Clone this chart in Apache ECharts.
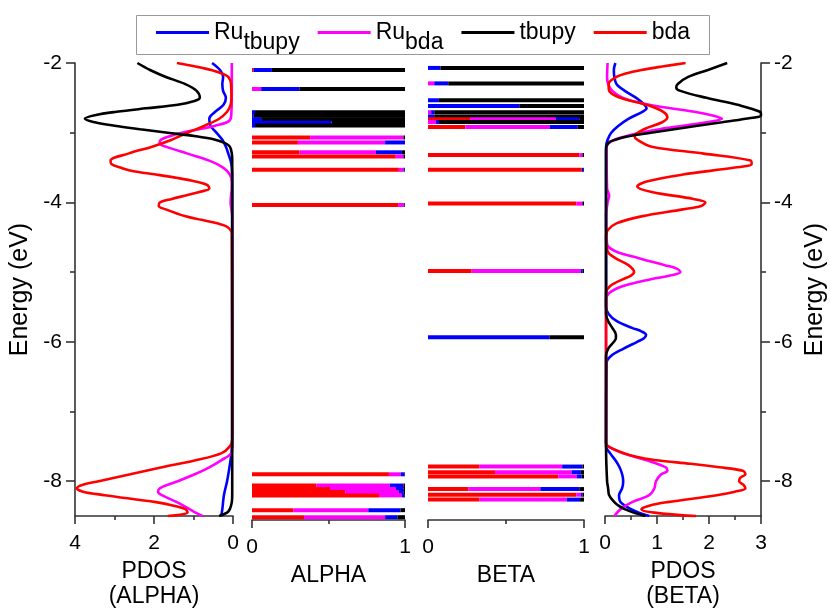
<!DOCTYPE html>
<html><head><meta charset="utf-8">
<script src="https://cdn.jsdelivr.net/npm/echarts@6/dist/echarts.min.js"></script>
<style>html,body{margin:0;padding:0;background:#fff}#c{width:830px;height:614px}</style>
</head><body><div id="c"></div>
<script>
// ---------- data ----------
const legendNames = ['Ru_tbupy', 'Ru_bda', 'tbupy', 'bda'];
const yTickValues = [-8, -6, -4, -2];
const yMinorTickValues = [-7, -5, -3];

// PDOS (ALPHA)
const aBlueE = [-2.0,-2.1,-2.2,-2.3,-2.4,-2.5,-2.6,-2.7,-2.8,-2.9,-3.0,-3.1,-3.2,-3.3,-3.4,-3.5,-3.7,-7.4,-7.6,-7.8,-8.0,-8.2,-8.4,-8.5];
const aBlueV = [0.53,0.33,0.25,0.27,0.25,0.18,0.24,0.45,0.60,0.57,0.42,0.27,0.18,0.12,0.06,0.03,0.02,0.02,0.04,0.09,0.15,0.23,0.27,0.30];
const aMagE = [-2.0,-2.5,-2.7,-2.8,-2.85,-2.9,-2.95,-3.0,-3.05,-3.1,-3.15,-3.2,-3.3,-3.4,-3.5,-3.6,-3.7,-3.8,-3.9,-4.0,-4.1,-4.2,-7.5,-7.6,-7.7,-7.8,-7.9,-8.0,-8.05,-8.1,-8.15,-8.2,-8.3,-8.4,-8.45,-8.5];
const aMagV = [0.03,0.03,0.04,0.06,0.15,0.45,0.85,1.3,1.6,1.82,1.86,1.7,1.15,0.6,0.25,0.08,0.03,0.03,0.05,0.06,0.04,0.02,0.02,0.05,0.3,0.6,0.97,1.4,1.65,1.85,1.9,1.8,1.42,1.1,0.95,0.76];
const aBlackE = [-2.0,-2.1,-2.2,-2.3,-2.4,-2.5,-2.55,-2.6,-2.65,-2.7,-2.75,-2.8,-2.85,-2.9,-2.95,-3.0,-3.05,-3.1,-3.15,-3.2,-3.3,-3.4,-8.2,-8.3,-8.4,-8.45,-8.5];
const aBlackV = [2.42,2.1,1.7,1.22,0.92,0.84,1.0,1.4,2.2,2.95,3.5,3.75,3.5,3.0,2.35,1.65,0.95,0.45,0.2,0.08,0.03,0.02,0.02,0.03,0.08,0.15,0.35];
const aRedE = [-2.0,-2.05,-2.1,-2.15,-2.2,-2.3,-2.5,-2.6,-2.7,-2.8,-2.9,-3.0,-3.1,-3.2,-3.3,-3.4,-3.45,-3.5,-3.55,-3.6,-3.65,-3.7,-3.75,-3.8,-3.85,-3.9,-3.95,-4.0,-4.05,-4.1,-4.2,-4.25,-4.3,-4.35,-4.45,-7.4,-7.5,-7.6,-7.7,-7.8,-7.9,-8.0,-8.05,-8.1,-8.15,-8.2,-8.3,-8.35,-8.4,-8.45,-8.5];
const aRedV = [1.42,0.95,0.55,0.28,0.12,0.05,0.04,0.06,0.15,0.35,0.72,1.15,1.55,2.05,2.65,3.1,3.08,2.85,2.55,1.95,1.4,0.95,0.65,0.6,0.85,1.2,1.55,1.85,1.88,1.7,1.2,0.8,0.4,0.15,0.03,0.02,0.08,0.3,0.95,1.8,2.6,3.4,3.8,3.95,3.8,3.25,1.95,1.5,1.2,1.15,1.65];

// PDOS (BETA)
const bBlueE = [-2.0,-2.1,-2.2,-2.3,-2.4,-2.5,-2.6,-2.65,-2.7,-2.8,-2.9,-3.0,-3.1,-3.2,-5.5,-5.6,-5.7,-5.8,-5.85,-5.9,-5.95,-6.0,-6.1,-6.2,-6.3,-7.5,-7.6,-7.7,-7.8,-7.9,-8.0,-8.1,-8.2,-8.3,-8.4,-8.45,-8.5];
const bBlueV = [0.2,0.17,0.18,0.22,0.38,0.6,0.76,0.8,0.72,0.45,0.26,0.12,0.05,0.02,0.02,0.07,0.22,0.52,0.7,0.79,0.75,0.62,0.35,0.12,0.03,0.02,0.1,0.2,0.28,0.33,0.35,0.33,0.27,0.3,0.5,0.65,0.85];
const bMagE = [-2.0,-2.2,-2.3,-2.4,-2.5,-2.6,-2.7,-2.75,-2.8,-2.85,-2.9,-2.95,-3.0,-3.05,-3.1,-3.15,-3.2,-3.8,-3.9,-4.0,-4.2,-4.6,-4.7,-4.8,-4.9,-4.95,-5.0,-5.05,-5.1,-5.2,-5.3,-5.4,-7.45,-7.5,-7.6,-7.7,-7.8,-7.85,-7.9,-8.0,-8.1,-8.2,-8.3,-8.4,-8.5];
const bMagV = [0.05,0.04,0.06,0.14,0.35,0.85,1.72,2.05,2.25,1.95,1.5,1.05,0.68,0.4,0.18,0.07,0.03,0.04,0.08,0.05,0.02,0.04,0.2,0.65,1.15,1.38,1.45,1.25,0.9,0.35,0.08,0.02,0.02,0.06,0.35,0.8,1.17,1.2,1.08,0.98,0.95,0.85,0.52,0.3,0.18];
const bBlackE = [-2.0,-2.1,-2.2,-2.3,-2.35,-2.4,-2.5,-2.6,-2.7,-2.75,-2.8,-2.85,-2.9,-3.0,-3.05,-3.1,-3.15,-3.25,-5.6,-5.7,-5.8,-5.9,-5.95,-6.0,-6.1,-6.2,-7.5,-8.0,-8.1,-8.2,-8.3,-8.35,-8.4,-8.45,-8.5];
const bBlackV = [2.35,1.98,1.6,1.4,1.37,1.45,1.95,2.55,2.98,3.0,2.7,2.25,1.78,0.88,0.45,0.2,0.06,0.02,0.02,0.06,0.14,0.21,0.21,0.17,0.06,0.02,0.02,0.04,0.06,0.08,0.18,0.26,0.38,0.55,0.78];
const bRedE = [-2.0,-2.05,-2.1,-2.15,-2.2,-2.3,-2.4,-2.5,-2.6,-2.7,-2.78,-2.85,-2.95,-3.05,-3.1,-3.2,-3.3,-3.4,-3.45,-3.5,-3.6,-3.7,-3.77,-3.85,-3.95,-4.0,-4.05,-4.1,-4.2,-4.3,-4.4,-4.5,-4.7,-4.8,-4.9,-5.0,-5.05,-5.1,-5.2,-5.3,-7.45,-7.55,-7.65,-7.7,-7.75,-7.8,-7.85,-7.9,-7.95,-8.0,-8.05,-8.1,-8.15,-8.2,-8.3,-8.35,-8.4,-8.45,-8.5];
const bRedV = [1.55,1.1,0.7,0.4,0.22,0.07,0.08,0.3,0.8,1.12,1.2,1.1,0.75,0.57,0.62,0.9,1.9,2.8,2.82,2.5,1.5,0.8,0.62,0.9,1.7,1.93,1.85,1.5,0.7,0.22,0.05,0.02,0.05,0.2,0.45,0.56,0.5,0.35,0.1,0.02,0.02,0.2,0.6,1.0,1.65,2.2,2.65,2.7,2.6,2.58,2.66,2.7,2.5,2.15,1.2,0.85,0.7,0.95,1.75];

// ALPHA levels: energy and fraction of bda (red), Ru_bda (magenta), Ru_tbupy (blue), tbupy (black)
const alphaE     = [-2.10,-2.37,-2.70,-2.75,-2.80,-2.85,-2.89,-3.06,-3.13,-3.27,-3.33,-3.52,-4.02,-7.85,-8.01,-8.06,-8.10,-8.15,-8.36,-8.46];
const alphaRed   = [0.01, 0.00, 0.00, 0.00, 0.00, 0.00, 0.00, 0.38, 0.30, 0.31, 0.94, 0.96, 0.955,0.895,0.42, 0.51, 0.61, 0.83, 0.27, 0.34];
const alphaMag   = [0.00, 0.06, 0.00, 0.00, 0.00, 0.00, 0.00, 0.61, 0.57, 0.50, 0.05, 0.03, 0.037,0.078,0.48, 0.43, 0.35, 0.15, 0.49, 0.53];
const alphaBlue  = [0.12, 0.25, 0.02, 0.01, 0.06, 0.52, 0.02, 0.00, 0.13, 0.17, 0.00, 0.005,0.004,0.025,0.09, 0.05, 0.03, 0.015,0.21, 0.08];
const alphaBlack = [0.87, 0.69, 0.98, 0.99, 0.94, 0.48, 0.98, 0.01, 0.00, 0.02, 0.01, 0.005,0.004,0.002,0.01, 0.01, 0.01, 0.005,0.03, 0.05];

// BETA levels
const betaE     = [-2.07,-2.29,-2.53,-2.61,-2.70,-2.76,-2.80,-2.84,-2.91,-3.31,-3.52,-4.00,-4.96,-5.90,-7.74,-7.82,-7.88,-8.06,-8.14,-8.21];
const betaRed   = [0.00, 0.00, 0.00, 0.00, 0.00, 0.00, 0.27, 0.00, 0.24, 0.97, 0.985,0.95, 0.28, 0.00, 0.33, 0.43, 0.835,0.26, 0.95, 0.33];
const betaMag   = [0.00, 0.04, 0.00, 0.00, 0.02, 0.00, 0.55, 0.05, 0.54, 0.02, 0.00, 0.04, 0.70, 0.00, 0.53, 0.49, 0.12, 0.46, 0.03, 0.56];
const betaBlue  = [0.08, 0.09, 0.07, 0.585,0.02, 0.04, 0.15, 0.02, 0.18, 0.00, 0.01, 0.00, 0.01, 0.78, 0.13, 0.06, 0.03, 0.25, 0.01, 0.085];
const betaBlack = [0.92, 0.87, 0.93, 0.415,0.96, 0.96, 0.03, 0.93, 0.04, 0.01, 0.005,0.01, 0.01, 0.22, 0.01, 0.02, 0.015,0.03, 0.01, 0.025];

// ---------- styling ----------
const BLUE = '#0000ff', MAG = '#ff00ff', BLACK = '#000000', RED = '#ff0000';
const FONT = '"Liberation Sans", Arial, sans-serif';
const AXC = '#333333';
const lineW = 2.6;

const chart = echarts.init(document.getElementById('c'), null, {renderer: 'canvas'});

const grids = [
  {left: 75,  top: 63, width: 158, height: 457},
  {left: 252, top: 63, width: 153, height: 457},
  {left: 428, top: 63, width: 156, height: 457},
  {left: 605, top: 63, width: 156, height: 457}
];

function xAx(gi, max, interval, name, inverse) {
  return {
    type: 'value', gridIndex: gi, min: 0, max: max, interval: interval, inverse: !!inverse,
    position: 'bottom',
    name: name, nameLocation: 'middle', nameGap: 38,
    nameTextStyle: {fontFamily: FONT, fontSize: 23, color: '#000', lineHeight: 25},
    axisLine: {show: true, onZero: false, lineStyle: {color: AXC, width: 1.6}},
    axisTick: {show: true, inside: false, length: 8, lineStyle: {color: AXC, width: 1.6}},
    minorTick: {show: true, splitNumber: 2, length: 4, lineStyle: {color: AXC, width: 1.6}},
    axisLabel: {fontFamily: FONT, fontSize: 21, color: '#000', margin: 17},
    splitLine: {show: false}
  };
}
function yAxMain(gi, pos) {
  return {
    type: 'value', gridIndex: gi, min: -8.5, max: -2, position: pos,
    name: 'Energy (eV)', nameLocation: 'middle', nameGap: 42,
    nameTextStyle: {fontFamily: FONT, fontSize: 25, color: '#000'},
    axisLine: {show: true, onZero: false, lineStyle: {color: AXC, width: 1.6}},
    axisTick: {show: true, length: 9, customValues: yTickValues, lineStyle: {color: AXC, width: 1.6}},
    axisLabel: {fontFamily: FONT, fontSize: 21, color: '#000', margin: 13, customValues: yTickValues},
    splitLine: {show: false}
  };
}
function yAxMinor(gi, pos) {
  return {
    type: 'value', gridIndex: gi, min: -8.5, max: -2, position: pos,
    axisLine: {show: false, onZero: false},
    axisTick: {show: true, length: 5, customValues: yMinorTickValues, lineStyle: {color: AXC, width: 1.6}},
    axisLabel: {show: false},
    splitLine: {show: false}
  };
}
function yAxHidden(gi) {
  return {type: 'value', gridIndex: gi, min: -8.5, max: -2, show: false,
          axisLine: {onZero: false}, splitLine: {show: false}};
}

function pdos(name, color, xi, yi, E, V) {
  return {
    type: 'line', name: name, xAxisIndex: xi, yAxisIndex: yi,
    data: E.map((e, i) => [V[i], e]),
    showSymbol: false, symbol: 'none', smooth: 0.35, clip: true, silent: true,
    color: color,
    lineStyle: {color: color, width: lineW}
  };
}

function levels(xi, yi, E, R, M, B, K) {
  const cols = [RED, MAG, BLUE, BLACK];
  return {
    type: 'custom', xAxisIndex: xi, yAxisIndex: yi, silent: true, clip: true,
    data: E.map((e, i) => [e, R[i], M[i], B[i], K[i]]),
    encode: {y: 0, x: 1},
    renderItem: function (params, api) {
      const e = api.value(0);
      const parts = [api.value(1), api.value(2), api.value(3), api.value(4)];
      let cum = 0;
      const children = [];
      parts.forEach(function (f, j) {
        if (!(f > 0)) return;
        const p0 = api.coord([cum, e]);
        const p1 = api.coord([cum + f, e]);
        cum += f;
        children.push({type: 'rect', shape: {x: p0[0], y: p0[1] - 2, width: p1[0] - p0[0], height: 4},
                       style: {fill: cols[j]}});
      });
      return {type: 'group', children: children};
    }
  };
}

const option = {
  animation: false,
  backgroundColor: '#ffffff',
  textStyle: {fontFamily: FONT},
  grid: grids,
  xAxis: [
    xAx(0, 4, 2, 'PDOS\n(ALPHA)', true),
    xAx(1, 1, 1, 'ALPHA'),
    xAx(2, 1, 1, 'BETA'),
    xAx(3, 3, 1, 'PDOS\n(BETA)')
  ],
  yAxis: [
    yAxMain(0, 'left'), yAxMinor(0, 'left'),
    yAxHidden(1), yAxHidden(2),
    yAxMain(3, 'right'), yAxMinor(3, 'right')
  ],
  legend: {
    data: legendNames, left: 156, top: 21, padding: 0,
    icon: 'rect', itemWidth: 53, itemHeight: 3, itemGap: 18,
    selectedMode: false,
    formatter: function (n) {
      if (n === 'Ru_tbupy') return '{n|Ru}{s|tbupy}';
      if (n === 'Ru_bda') return '{n|Ru}{s|bda}';
      return '{n|' + n + '}{s|\u200B}';
    },
    textStyle: {
      fontFamily: FONT, color: '#000', fontSize: 23,
      rich: {
        n: {fontFamily: FONT, fontSize: 23, color: '#000'},
        s: {fontFamily: FONT, fontSize: 23, color: '#000', padding: [20, 0, 0, 0]}
      }
    }
  },
  graphic: [{
    type: 'rect', left: 134, top: 13, silent: true,
    shape: {width: 573, height: 39},
    style: {fill: 'none', stroke: '#999', lineWidth: 1}
  }],
  series: [
    pdos('Ru_tbupy', BLUE, 0, 0, aBlueE, aBlueV),
    pdos('Ru_bda', MAG, 0, 0, aMagE, aMagV),
    pdos('bda', RED, 0, 0, aRedE, aRedV),
    pdos('tbupy', BLACK, 0, 0, aBlackE, aBlackV),
    levels(1, 2, alphaE, alphaRed, alphaMag, alphaBlue, alphaBlack),
    levels(2, 3, betaE, betaRed, betaMag, betaBlue, betaBlack),
    pdos('Ru_tbupy', BLUE, 3, 4, bBlueE, bBlueV),
    pdos('Ru_bda', MAG, 3, 4, bMagE, bMagV),
    pdos('bda', RED, 3, 4, bRedE, bRedV),
    pdos('tbupy', BLACK, 3, 4, bBlackE, bBlackV)
  ]
};
chart.setOption(option);
</script></body></html>
